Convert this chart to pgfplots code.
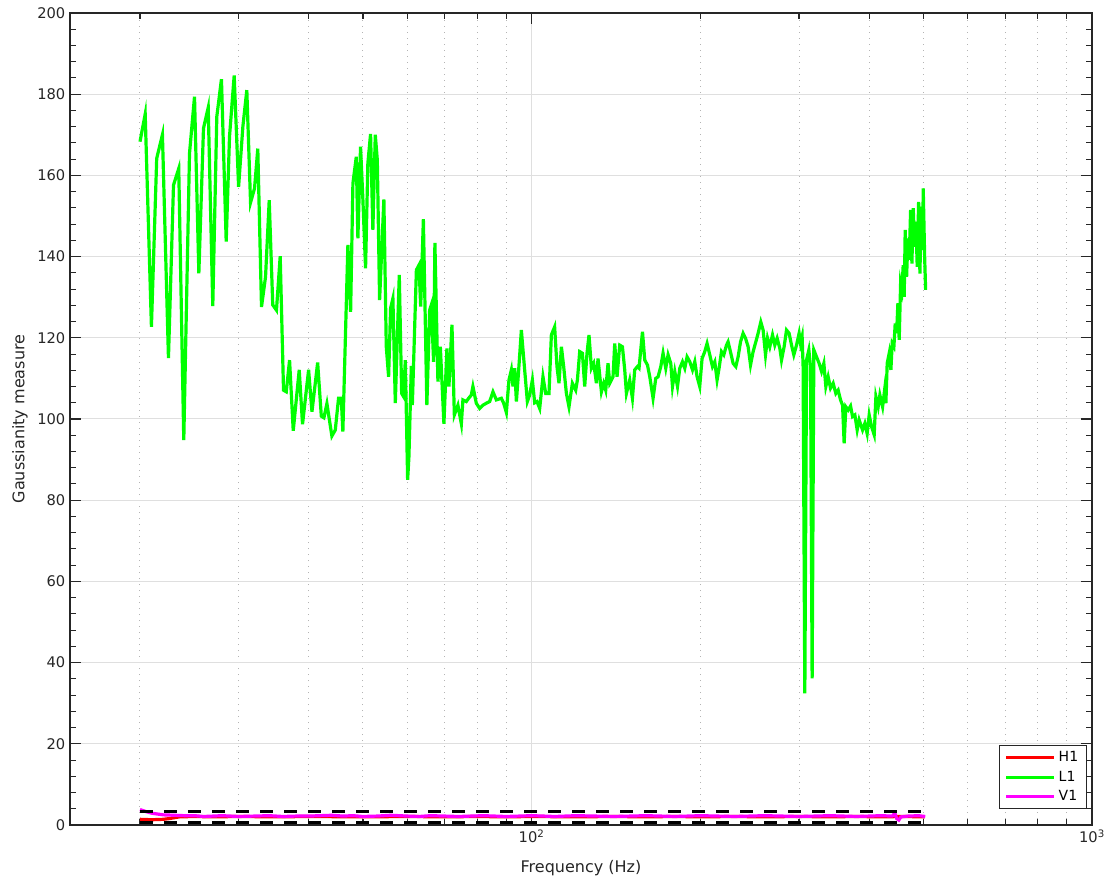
\documentclass[border=0pt]{standalone}
\usepackage{fontspec}
\setmainfont{DejaVu Sans}
\usepackage{pgfplots}
\pgfplotsset{compat=1.18}
\definecolor{axgray}{HTML}{262626}
\definecolor{gridgray}{HTML}{DFDFDF}
\definecolor{mingrid}{HTML}{B4B4B4}
\definecolor{hone}{HTML}{FF0000}
\definecolor{lone}{HTML}{00FF00}
\definecolor{vone}{HTML}{FF00FF}

\begin{document}
\begin{tikzpicture}
\begin{axis}[
 name=ax,
 scale only axis, width=766.5pt, height=609pt,
 xmode=log, xmin=15, xmax=1000, ymin=0, ymax=200,
 xtick={100,1000}, xticklabels={10\textsuperscript{2},10\textsuperscript{3}},
 minor xtick={20,30,40,50,60,70,80,90,200,300,400,500,600,700,800,900},
 ytick={0,20,...,200}, minor y tick num=4,
 xmajorgrids, xminorgrids, ymajorgrids,
 major grid style={gridgray, line width=0.75pt},
 minor grid style={mingrid, line width=0.75pt, dash pattern=on 0.75pt off 3.75pt},
 axis line style={axgray, line width=0.8pt},
 every tick/.style={axgray, line width=0.8pt},
 major tick length=8pt, minor tick length=4.5pt,
 tick align=inside,
 /pgf/number format/assume math mode=true,
 tick label style={font=\fontsize{11}{13}\selectfont, text=axgray},
 xlabel={Frequency (Hz)}, ylabel={Gaussianity measure},
 label style={font=\fontsize{12}{14}\selectfont, text=axgray},
 xlabel style={at={(axis description cs:0.5,-0.053)}, anchor=center},
 ylabel style={at={(axis description cs:-0.049,0.5)}, anchor=center},
 legend style={at={(axis description cs:0.9948,0.0193)}, anchor=south east,
   draw=axgray, line width=0.8pt, font=\fontsize{10.5}{12}\selectfont,
   inner xsep=4pt, inner ysep=2.5pt, row sep=1.5pt},
 legend cell align=left,
 legend image code/.code={\draw[#1] (0pt,0pt) -- (36pt,0pt);},
]
\addplot[hone, line width=2.4pt] coordinates {
(20,1.4) (21,1.3) (22,1.4) (22.6,1.6) (23.5,2.0) (25,2.1) (27,2.0) (30,2.1) (35,2.0) (40,2.1)
(50,2.0) (60,2.1) (70,2.0) (80,2.1) (90,2.0) (100,2.1) (120,2.0) (140,2.1) (160,2.0) (180,2.1)
(200,2.0) (230,2.1) (260,2.0) (300,2.1) (340,2.0) (380,2.1) (420,2.0) (460,2.1) (503,2.0)
};
\addlegendentry{H1}
\addplot[lone, line width=2.4pt] table {
20.0 168.3
20.43 175.1
20.96 122.7
21.42 164.2
21.93 170.0
22.48 115.0
22.95 157.6
23.45 161.7
23.94 94.8
24.51 165.4
25.02 179.4
25.47 135.9
25.96 171.6
26.47 176.7
26.97 127.8
27.42 174.5
27.95 183.7
28.50 143.7
28.89 169.5
29.45 184.6
29.99 157.2
30.52 172.0
31.02 181.0
31.50 153.3
32.02 156.8
32.45 166.6
32.95 127.6
33.50 135.0
34.01 153.9
34.51 128.1
35.04 126.8
35.58 140.1
36.07 107.1
36.48 106.7
36.98 114.5
37.54 97.1
38.48 112.1
39.00 98.7
39.99 112.1
40.54 101.8
41.50 113.9
42.13 100.7
42.58 100.3
43.11 103.8
44.00 95.8
44.62 97.3
45.22 105.1
45.73 105.1
46.03 96.9
46.99 142.9
47.52 126.4
47.97 158.0
48.64 164.6
48.96 144.5
49.50 167.1
49.97 154.3
50.53 137.1
51.01 163.0
51.58 170.2
52.07 146.6
52.59 170.0
53.03 163.8
53.53 129.3
54.48 154.1
55.02 117.8
55.55 110.4
56.01 127.3
56.54 129.7
57.10 103.9
58.04 135.5
58.61 106.3
59.08 105.5
59.50 114.5
60.07 85.0
60.39 90.7
60.99 113.1
61.24 103.4
62.27 136.7
62.93 137.9
63.38 127.7
64.08 149.2
65.01 103.4
65.75 126.8
66.21 128.1
66.83 114.1
67.19 143.4
68.03 109.2
68.71 117.8
69.73 98.8
70.59 117.4
71.18 108.0
72.07 123.2
72.78 101.0
73.86 103.4
74.91 98.8
75.40 104.7
76.46 104.3
77.18 105.1
78.04 105.9
78.56 108.0
79.65 103.9
80.75 102.6
81.85 103.4
83.02 103.9
84.14 104.3
85.30 106.7
86.50 104.7
88.29 105.1
89.13 103.9
90.12 101.6
91.09 109.6
91.99 112.1
92.60 108.0
93.25 112.5
93.91 104.3
94.80 112.1
95.85 121.9
97.16 112.1
98.24 104.3
99.18 105.9
100.29 109.6
101.24 104.0
102.2 104.3
103.35 102.6
104.75 110.4
105.93 106.3
107.38 106.3
108.43 120.7
109.9 122.7
110.96 112.9
111.88 108.8
112.99 117.8
114.06 112.9
115.33 106.3
116.57 103.0
118.21 108.8
119.83 107.1
120.67 109.6
121.82 116.6
123.18 116.2
124.35 108.0
125.53 116.2
126.57 120.7
127.82 112.5
129.04 113.7
130.48 108.8
131.34 114.9
133.19 106.7
134.46 108.8
135.57 107.1
136.86 113.7
137.82 108.8
139.7 110.4
140.68 118.6
142.02 110.4
143.6 118.2
145.2 117.8
146.58 112.1
147.61 106.3
149.62 109.6
151.29 105.1
152.73 112.1
154.43 112.9
155.45 112.5
157.67 121.5
159.16 114.5
160.94 113.3
162.47 110.4
164.69 105.1
166.53 110.0
168.11 110.4
169.99 112.9
171.6 116.2
173.52 112.5
175.17 115.8
177.12 113.7
178.37 108.0
180.07 111.7
182.08 108.0
183.81 112.5
185.86 114.1
187.62 112.5
189.41 115.3
191.52 114.1
193.66 112.1
195.5 114.1
197.36 110.4
199.53 108.0
201.42 114.9
203.67 116.6
205.61 118.6
207.9 115.8
210.22 112.9
212.22 114.1
214.23 109.6
216.0 112.5
218.15 116.6
220.22 115.8
222.68 118.2
224.15 119.0
226.67 116.2
228.82 113.7
231.38 112.9
233.57 115.3
235.89 119.0
238.43 121.1
240.8 119.9
243.38 117.8
245.8 113.3
248.44 116.6
251.19 119.0
253.58 121.1
256.41 123.9
258.85 121.9
261.41 115.8
263.57 119.9
266.07 117.8
269.04 120.7
271.6 118.2
274.18 119.9
277.24 117.4
279.18 114.5
282.19 117.8
284.98 121.9
288.04 121.1
290.9 118.2
293.67 115.8
296.95 118.2
300.14 121.1
301.87 118.6
303.86 120.3
305.1 112.9
307.25 32.4
309.41 114.5
312.35 117.0
314.54 112.9
316.62 36.1
318.85 117.0
322.4 115.3
325.88 113.7
329.11 111.7
332.24 113.7
334.97 108.0
338.16 110.4
341.51 107.6
345.19 108.8
349.04 106.3
352.36 107.1
355.85 104.7
358.79 103.4
361.16 94.0
363.7 103.0
367.16 102.2
370.8 103.2
373.86 100.6
377.41 101.0
380.99 97.3
384.13 99.8
389.54 97.3
393.23 98.9
396.97 96.4
400.25 101.0
404.22 98.1
408.57 96.1
411.43 105.5
415.34 103.0
418.26 105.9
422.92 103.0
426.41 107.1
428.7 103.9
430.99 113.7
434.56 116.2
437.6 112.1
439.95 118.6
443.03 117.8
445.41 123.5
447.98 121.1
450.38 128.5
452.8 119.5
455.42 133.4
457.86 131.8
460.32 137.9
462.21 130.1
464.12 146.6
466.8 135.0
469.3 144.5
471.81 139.2
474.54 151.5
477.08 138.3
479.64 151.9
482.41 142.4
485.0 148.6
487.6 137.5
490.42 153.5
493.05 135.8
495.69 152.3
498.55 141.6
499.78 156.8
502.67 140.0
504.75 131.8
};
\addlegendentry{L1}
\addplot[vone, line width=2.4pt] coordinates {
(20,3.8) (20.5,3.3) (21,2.9) (21.5,2.7) (22,2.5) (23,2.4) (24,2.3) (25,2.3) (26,2.1) (27,2.2)
(28,2.3) (29,2.2) (30,2.1) (32,2.2) (34,2.3) (36,2.1) (38,2.2) (40,2.2) (42,2.3) (44,2.4)
(46,2.2) (48,2.3) (50,2.1) (53,2.2) (56,2.4) (60,2.2) (63,2.1) (66,2.3) (70,2.2) (74,2.1)
(78,2.2) (82,2.3) (86,2.2) (90,2.1) (95,2.2) (100,2.3) (105,2.2) (110,2.1) (120,2.3) (130,2.2)
(140,2.1) (150,2.2) (160,2.3) (170,2.2) (180,2.1) (190,2.2) (200,2.3) (215,2.2) (230,2.1) (245,2.2)
(260,2.3) (280,2.2) (300,2.1) (320,2.2) (340,2.3) (360,2.2) (380,2.1) (400,2.2) (420,2.3) (440,2.2)
(445,2.9) (448,1.6) (452,1.2) (456,2.0) (470,2.2) (490,2.3) (504,2.1)
};
\addlegendentry{V1}
\addplot[black, line width=2.4pt, dash pattern=on 10pt off 8pt, forget plot] coordinates {(20,3.3) (504,3.3)};
\addplot[black, line width=2.4pt, dash pattern=on 10pt off 8pt, forget plot] coordinates {(20,0.7) (504,0.7)};
\end{axis}
\pgfresetboundingbox
\path[use as bounding box] ([xshift=-52.5pt,yshift=-40.5pt]ax.south west) rectangle ([xshift=13.5pt,yshift=9.75pt]ax.north east);
\end{tikzpicture}
\end{document}
